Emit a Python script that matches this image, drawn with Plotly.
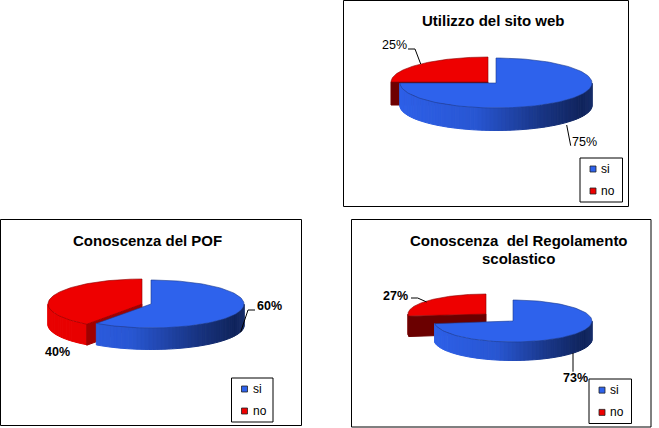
import numpy as np
import plotly.graph_objects as go

categories = ["si", "no"]
titles = ["Utilizzo del sito web", "Conoscenza del POF", "Conoscenza  del Regolamento<br>scolastico"]
si_values = [75, 60, 73]
no_values = [25, 40, 27]

W, H = 659, 428
BLUE_TOP, RED_TOP = "#2E62EC", "#EE0000"
BLUE_STOPS = [(0.0, (46, 96, 232)), (0.4, (40, 86, 210)), (0.75, (24, 52, 130)), (0.95, (16, 36, 92)), (1.0, (22, 44, 104))]

STYLE = [
    dict(frame=(343.5, 0.5, 628.5, 206.5), legend=(580, 158, 622.5, 202), bold=False,
         blue=(496, 83, 96, 25, 23), red=(488, 82, 97, 25, 23), dark="#6E0000", wall=(225, 0, 0),
         title=[(493.5, 20)], si=(584, 142), no=(394, 45),
         si_lead=[(570.7, 145.7), (566.7, 125)], no_lead=[(408, 49), (415, 49), (420.7, 64)]),
    dict(frame=(0.5, 219.5, 301.5, 425.5), legend=(231.5, 378, 273, 422), bold=True,
         blue=(151, 304, 93, 24, 22), red=(142, 304, 94, 25, 21), dark="#A00000", wall=(232, 0, 0),
         title=[(147, 240)], si=(269.7, 305.7), no=(57.7, 351.7),
         si_lead=[(255, 310), (248, 310), (240.7, 332)], no_lead=[]),
    dict(frame=(351.5, 219.5, 651, 427), legend=(589, 379, 631.5, 423.5), bold=True,
         blue=(513, 321, 79, 21, 19), red=(486, 314, 78, 20, 20), dark="#6B0000", wall=(120, 0, 0),
         title=[(518.5, 240), (518.5, 258)], si=(575, 378), no=(395.7, 296),
         si_lead=[(573, 371.7), (573, 353)], no_lead=[(411, 298), (417.7, 298), (426.7, 302)]),
]

fig = go.Figure()


def poly(xs, ys, fill, line=None, lw=0.6):
    fig.add_trace(go.Scatter(
        x=list(xs) + [xs[0]], y=list(ys) + [ys[0]], mode="lines", fill="toself", fillcolor=fill,
        line=dict(color=line or fill, width=lw if line else 1), hoverinfo="skip", showlegend=False))


def rim(geom, a):
    cx, cy, rx, ry, _ = geom
    return cx + rx * np.sin(a), cy - ry * np.cos(a)


def shade(t, stops):
    for (t0, c0), (t1, c1) in zip(stops, stops[1:]):
        if t <= t1:
            f = (t - t0) / (t1 - t0)
            return "rgb(%d,%d,%d)" % tuple(round(p + (q - p) * f) for p, q in zip(c0, c1))
    return "rgb(%d,%d,%d)" % stops[-1][1]


def wedge(geom, start, end, top, edge, wall_color, cut=None):
    cx, cy, rx, ry, depth = geom
    # visible outer wall: the front half of the ellipse only
    w0, w1 = max(start, np.pi / 2), min(end, 3 * np.pi / 2)
    if w1 > w0:
        n = max(2, int(abs(w1 - w0) * rx / 4))
        grid = np.linspace(w1, w0, n + 1)
        for a0, a1 in zip(grid, grid[1:]):
            x0, y0 = rim(geom, a0)
            x1, y1 = rim(geom, a1)
            t = ((x0 + x1) / 2 - (cx - rx)) / (2 * rx)
            c = wall_color(t)
            poly([x0, x1, x1, x0], [y0, y1, y1 + depth - 0.5, y0 + depth - 0.5], c)
    if cut:
        x, y = rim(geom, start)
        poly([cx, x, x, cx], [cy, y, y + depth, cy + depth], cut)
    arc = np.linspace(start, end, 120)
    xs, ys = rim(geom, arc)
    poly([cx] + list(xs), [cy] + list(ys), top, line=edge)


def text(x, y, s, size=12, bold=False, anchor="center"):
    fig.add_annotation(x=x, y=y, text=f"<b>{s}</b>" if bold else s, showarrow=False, xanchor=anchor,
                       yanchor="middle", font=dict(family="Liberation Sans, Arial", size=size, color="#000000"))


shapes = []
for title, si, no, st in zip(titles, si_values, no_values, STYLE):
    x0, y0, x1, y1 = st["frame"]
    shapes.append(dict(type="rect", x0=x0, y0=y0, x1=x1, y1=y1, line=dict(color="#000", width=1), fillcolor="#fff", layer="below"))

    split = 2 * np.pi * si / (si + no)
    wall_rgb = st["wall"]
    wedge(st["red"], split, 2 * np.pi, RED_TOP, "#8A0000",
          lambda t, c=wall_rgb: "rgb(%d,%d,%d)" % c, cut=st["dark"])
    wedge(st["blue"], 0, split, BLUE_TOP, "#1D3A8C", lambda t: shade(t, BLUE_STOPS))

    lines = title.split("<br>")
    for (tx, ty), ln in zip(st["title"], lines):
        text(tx, ty, ln, size=15, bold=True)

    text(*st["si"], f"{si}%", bold=st["bold"], size=12.5)
    text(*st["no"], f"{no}%", bold=st["bold"], size=12.5)
    for lead in (st["si_lead"], st["no_lead"]):
        if lead:
            fig.add_trace(go.Scatter(x=[p[0] for p in lead], y=[p[1] for p in lead], mode="lines",
                                     line=dict(color="#000", width=1), hoverinfo="skip", showlegend=False))

    lx0, ly0, lx1, ly1 = st["legend"]
    shapes.append(dict(type="rect", x0=lx0, y0=ly0, x1=lx1, y1=ly1, line=dict(color="#000", width=1), fillcolor="#fff", layer="above"))
    step = (ly1 - ly0) / 2
    for i, (cat, col) in enumerate(zip(categories, (BLUE_TOP, RED_TOP))):
        my = ly0 + step * (i + 0.5)
        shapes.append(dict(type="rect", x0=lx0 + 10, x1=lx0 + 16, y0=my - 3, y1=my + 3,
                           line=dict(color="#222", width=0.8), fillcolor=col, layer="above"))
        text(lx0 + 19, my, cat, anchor="left")

fig.update_layout(
    width=W, height=H, margin=dict(l=0, r=0, t=0, b=0), paper_bgcolor="#fff", plot_bgcolor="#fff",
    showlegend=False, shapes=shapes,
    xaxis=dict(range=[0, W], visible=False, fixedrange=True),
    yaxis=dict(range=[H, 0], visible=False, fixedrange=True),
)
fig.write_html("out.html", config=dict(displayModeBar=False),
               post_script="document.body.style.margin='0';document.documentElement.style.overflow='hidden';")
